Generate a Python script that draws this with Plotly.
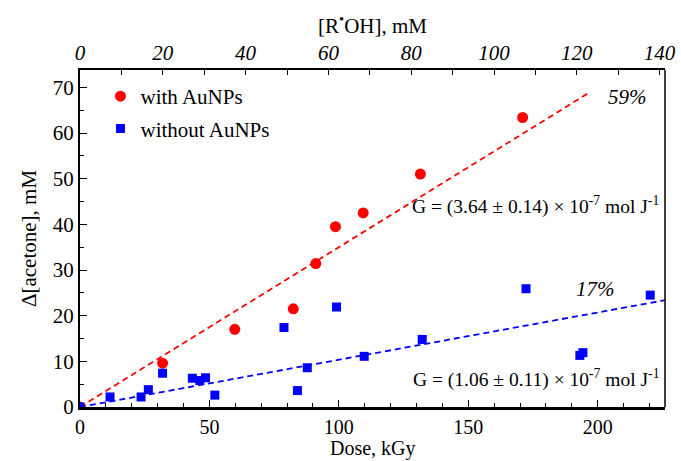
import plotly.graph_objects as go

# data
dose_with = [0, 31.9, 59.8, 82.4, 91.1, 98.7, 109.4, 131.5, 171.0]
acet_with = [0, 9.6, 17.0, 21.5, 31.4, 39.5, 42.5, 51.0, 63.4]

dose_without = [0, 11.6, 23.6, 26.4, 31.9, 43.4, 46.3, 48.5, 52.1, 78.8, 84.0, 87.8,
                99.1, 109.8, 132.2, 172.3, 193.1, 194.3, 220.3]
acet_without = [0, 2.2, 2.2, 3.8, 7.4, 6.3, 5.8, 6.4, 2.6, 17.4, 3.6, 8.6,
                21.9, 11.1, 14.8, 25.9, 11.3, 11.9, 24.5]

# linear fits through the origin (slope in mM per kGy, dose range drawn)
fit_with = [0.35, 196]
fit_without = [0.1035, 226]

FONT = "Liberation Serif"
RED = "#ff0000"
BLUE = "#0000ff"

fig = go.Figure()

fig.add_trace(go.Scatter(
    x=[0, fit_with[1]], y=[0, fit_with[0] * fit_with[1]],
    mode="lines", line=dict(color=RED, width=1.8, dash="6px,4px"),
    showlegend=False, hoverinfo="skip"))
fig.add_trace(go.Scatter(
    x=[0, fit_without[1]], y=[0, fit_without[0] * fit_without[1]],
    mode="lines", line=dict(color=BLUE, width=1.8, dash="6px,4px"),
    showlegend=False, hoverinfo="skip"))

fig.add_trace(go.Scatter(
    x=dose_with, y=acet_with, mode="markers", name="with AuNPs",
    legendgroup="a",
    marker=dict(symbol="circle", size=11, color=RED)))
fig.add_trace(go.Scatter(
    x=dose_without, y=acet_without, mode="markers", name="without AuNPs",
    legendgroup="b",
    marker=dict(symbol="square", size=9, color=BLUE)))

# invisible trace to hold the top axis
fig.add_trace(go.Scatter(x=[0, 140], y=[None, None], xaxis="x2",
                         showlegend=False, hoverinfo="skip"))

fig.update_layout(
    width=681, height=461,
    margin=dict(l=80, r=16, t=70, b=54),
    plot_bgcolor="white", paper_bgcolor="white",
    font=dict(family=FONT, size=21, color="black"),
    showlegend=True,
    legend=dict(x=0.035, y=0.982, xanchor="left", yanchor="top",
                bgcolor="rgba(0,0,0,0)", font=dict(size=21),
                traceorder="grouped", tracegroupgap=2),
    xaxis=dict(
        range=[0, 226], showgrid=False, zeroline=False, automargin=False,
        showline=True, linecolor="black", linewidth=3,
        ticks="inside", ticklen=7, tickwidth=1.2, tickcolor="black",
        dtick=50, tick0=0,
        minor=dict(dtick=10, ticks="inside", ticklen=4, tickcolor="black"),
        tickfont=dict(size=20),
    ),
    xaxis2=dict(
        overlaying="x", side="top", range=[0, 141.3], automargin=False,
        showgrid=False, zeroline=False,
        showline=True, linecolor="black", linewidth=2,
        ticks="inside", ticklen=5, tickwidth=1.2, tickcolor="black",
        dtick=20, tick0=0,
        minor=dict(dtick=10, ticks="inside", ticklen=5, tickcolor="black"),
        tickfont=dict(size=21, style="italic"),
    ),
    yaxis=dict(
        range=[0, 73.8], showgrid=False, zeroline=False, automargin=False,
        showline=True, linecolor="black", linewidth=2,
        ticks="inside", ticklen=7, tickwidth=1.2, tickcolor="black",
        dtick=10, tick0=0,
        minor=dict(dtick=5, ticks="inside", ticklen=4, tickcolor="black"),
        tickfont=dict(size=21),
        title=dict(text="Δ[acetone], mM", font=dict(size=21), standoff=10),
    ),
)

# right frame edge
fig.add_shape(type="line", xref="paper", yref="paper", x0=1, x1=1, y0=0, y1=1,
              line=dict(color="black", width=1.5))

# axis titles placed as annotations so they sit where the original has them
fig.add_annotation(xref="paper", yref="paper", x=0.5, y=-0.124, yanchor="middle",
                   text="Dose, kGy", showarrow=False, font=dict(size=20))
fig.add_annotation(xref="paper", yref="paper", x=0.5, y=1.136, yanchor="middle",
                   text="[R<sup>•</sup>OH], mM", showarrow=False, font=dict(size=21))

fig.add_annotation(x=211.6, y=67.8, text="<i>59%</i>", showarrow=False,
                   font=dict(size=21))
fig.add_annotation(x=199.2, y=25.8, text="<i>17%</i>", showarrow=False,
                   font=dict(size=21))
fig.add_annotation(xref="paper", x=0.993, y=44.2, xanchor="right",
                   text="G = (3.64 ± 0.14) × 10<sup>-7</sup> mol J<sup>-1</sup>",
                   showarrow=False, font=dict(size=19.5))
fig.add_annotation(xref="paper", x=0.993, y=6.3, xanchor="right",
                   text="G = (1.06 ± 0.11) × 10<sup>-7</sup> mol J<sup>-1</sup>",
                   showarrow=False, font=dict(size=19.5))

# drop the default page margin so the figure sits at the window corner
fig.write_html("out.html", config={"displayModeBar": False},
               post_script="document.body.style.margin='0';")
